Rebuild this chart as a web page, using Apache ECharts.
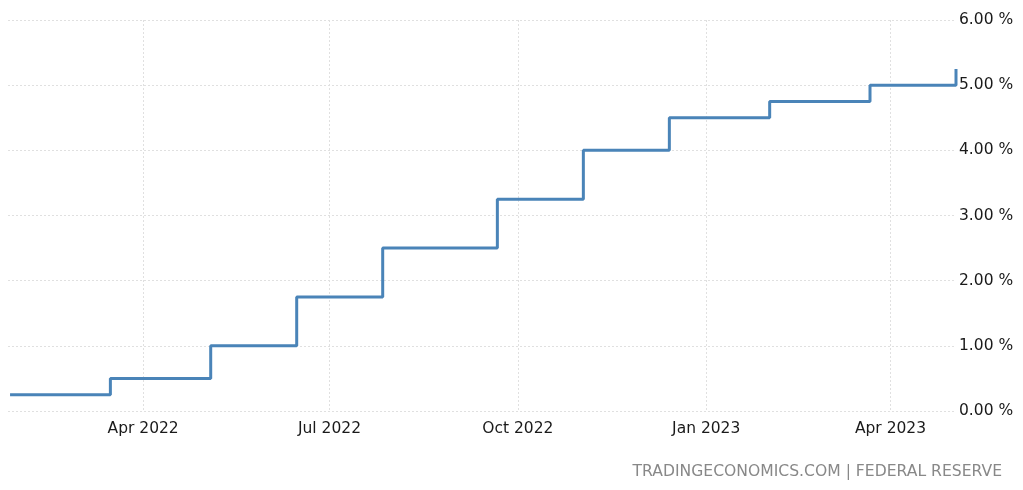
<!DOCTYPE html>
<html><head><meta charset="utf-8">
<script src="https://cdn.jsdelivr.net/npm/echarts@6/dist/echarts.min.js"></script>
<style>html,body{margin:0;padding:0;background:#fff}#c{width:1023px;height:490px}</style>
</head><body><div id="c"></div>
<script>
const dates = ['2022-01-26','2022-03-16','2022-05-04','2022-06-15','2022-07-27','2022-09-21','2022-11-02','2022-12-14','2023-02-01','2023-03-22','2023-05-03'];
const rates = [0.25, 0.50, 1.00, 1.75, 2.50, 3.25, 4.00, 4.50, 4.75, 5.00, 5.25];
const xTickDates = ['2022-04-01','2022-07-01','2022-10-01','2023-01-01','2023-04-01'];
const xTickLabels = ['Apr 2022','Jul 2022','Oct 2022','Jan 2023','Apr 2023'];
const yTicks = [0,1,2,3,4,5,6];
const sourceText = 'TRADINGECONOMICS.COM | FEDERAL RESERVE';

const ts = d => new Date(d + 'T00:00:00Z').getTime();
const tickVals = xTickDates.map(ts);
const font = '"DejaVu Sans", sans-serif';
const chart = echarts.init(document.getElementById('c'), null, {renderer:'canvas'});
chart.setOption({
  animation:false,
  backgroundColor:'#fff',
  grid:{left:8, right:67, top:20, bottom:79, containLabel:false},
  xAxis:{
    type:'value', min:ts('2022-01-25'), max:ts('2023-05-03'),
    axisLine:{show:false},
    axisTick:{show:false, customValues:tickVals},
    axisLabel:{customValues:tickVals, margin:10, color:'#1a1a1a', fontFamily:font, fontSize:15.5,
      formatter:v=>{const i=tickVals.indexOf(v); return i>=0?xTickLabels[i]:'';}},
    splitLine:{show:true, lineStyle:{color:'#e0e0e0', type:[2,2], width:1}}
  },
  yAxis:{
    type:'value', position:'right', min:yTicks[0], max:yTicks[yTicks.length-1], interval:1,
    axisLine:{show:false}, axisTick:{show:false},
    axisLabel:{margin:3, color:'#1a1a1a', fontFamily:font, fontSize:15.5, formatter:v=>v.toFixed(2)+' %'},
    splitLine:{show:true, lineStyle:{color:'#e0e0e0', type:[2,2], width:1}}
  },
  graphic:[{type:'text', right:21, top:464, style:{text:sourceText, fill:'#888', font:'15.6px '+font}}],
  series:[{type:'line', step:'end', showSymbol:false, data:dates.map((d,i)=>[ts(d),rates[i]]),
    lineStyle:{color:'#4a84b8', width:3}, itemStyle:{color:'#4a84b8'}}]
});
</script></body></html>
